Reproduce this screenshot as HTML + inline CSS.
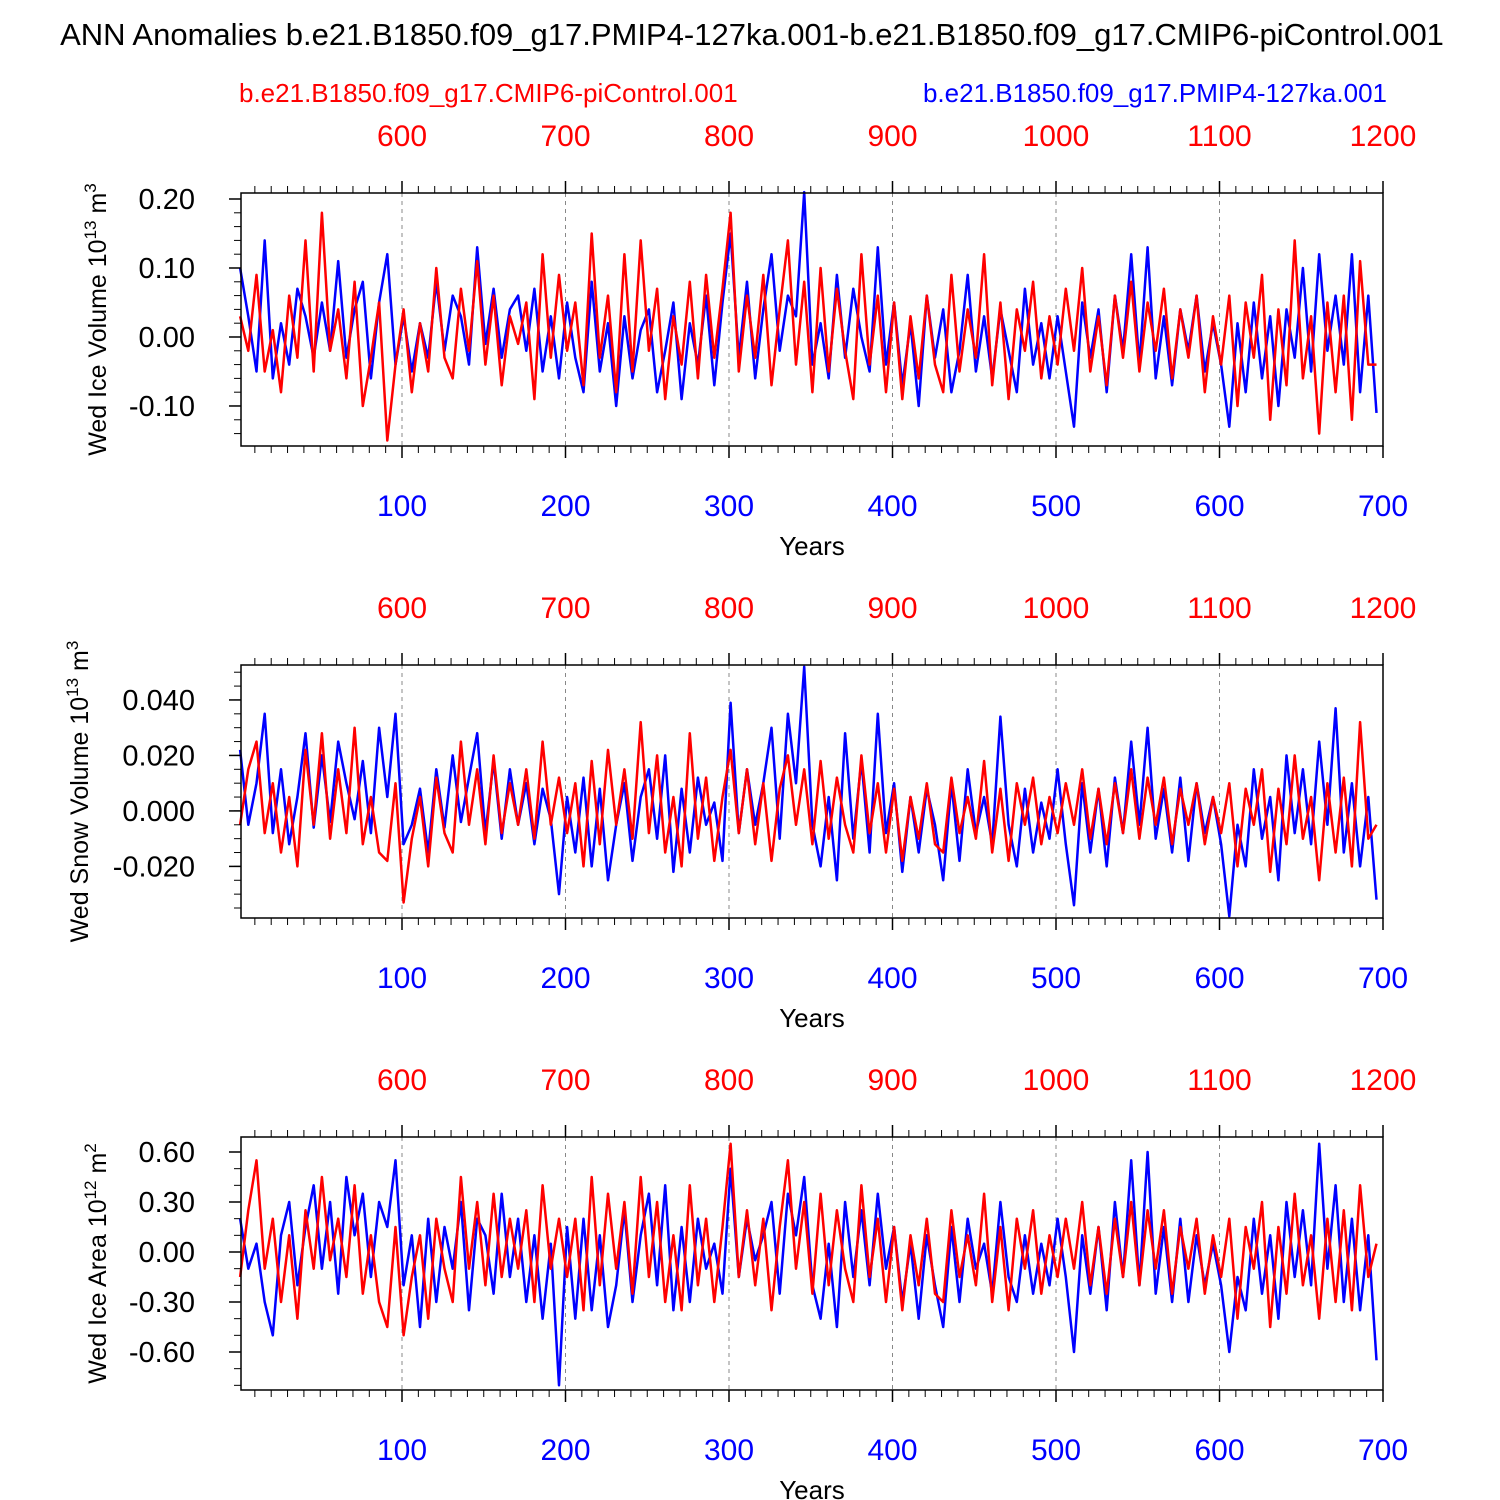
<!DOCTYPE html>
<html><head><meta charset="utf-8">
<style>
html,body{margin:0;padding:0;background:#fff;}
svg{display:block;font-family:"Liberation Sans",Arial,sans-serif;}
</style></head>
<body>
<svg id="chart" width="1500" height="1500" viewBox="0 0 1500 1500" xmlns="http://www.w3.org/2000/svg">
<text x="752" y="45" text-anchor="middle" font-size="31">ANN Anomalies b.e21.B1850.f09_g17.PMIP4-127ka.001-b.e21.B1850.f09_g17.CMIP6-piControl.001</text>
<text x="239" y="102" font-size="26" fill="#f00">b.e21.B1850.f09_g17.CMIP6-piControl.001</text>
<text x="1387" y="102" text-anchor="end" font-size="26" fill="#00f">b.e21.B1850.f09_g17.PMIP4-127ka.001</text>
</svg>
<script>
// sampling: one value every 5 years
const blueStart = 1, redStart = 501, step = 5;
const blueTicks = [100,200,300,400,500,600,700];
const redTicks = [600,700,800,900,1000,1100,1200];
// Panel 1: Wed Ice Volume (units of 0.01 x 10^13 m^3)
const iceVolBlue = [10,3,-5,14,-6,2,-4,7,3,-3,5,-2,11,-3,4,8,-6,5,12,-4,
3,-5,2,-3,8,-2,6,3,-4,13,-1,7,-3,4,6,-2,7,-5,3,-6,
5,-3,-8,8,-5,2,-10,3,-6,1,4,-8,-2,5,-9,2,-4,6,-7,5,
15,-3,8,-6,4,12,-2,6,3,21,-4,2,-6,9,-3,7,0,-5,13,-4,
5,-7,2,-10,6,-3,4,-8,-2,9,-5,3,-6,4,-2,-8,7,-4,2,-6,
3,-5,-13,5,-3,4,-8,6,-2,12,-4,13,-6,3,-7,4,-2,6,-5,2,
-4,-13,2,-8,5,-6,3,-10,4,-3,10,-5,12,-2,6,-4,12,-8,6,-11];
const iceVolRed = [3,-2,9,-5,1,-8,6,-3,14,-5,18,-2,4,-6,8,-10,-3,5,-15,-4,
4,-8,2,-5,10,-3,-6,7,-2,11,-4,6,-7,3,-1,5,-9,12,-3,9,
-2,5,-7,15,-3,6,-8,12,-5,14,-2,7,-9,3,-4,8,-6,9,-3,7,
18,-5,6,-3,9,-7,4,14,-4,8,-8,10,-5,7,-2,-9,12,-4,6,-8,
5,-9,3,-6,6,-4,-8,9,-5,4,-3,12,-7,5,-9,4,-2,8,-6,3,
-4,7,-2,10,-5,3,-7,6,-3,8,-5,5,-2,7,-6,4,-3,6,-8,3,
-4,6,-10,5,-3,9,-12,4,-7,14,-6,3,-14,5,-8,6,-12,11,-4,-4];
// Panel 2: Wed Snow Volume (units of 0.001 x 10^13 m^3)
const snowVolBlue = [22,-5,10,35,-8,15,-12,5,28,-6,20,-4,25,10,-3,18,-8,30,5,35,
-12,-5,8,-15,15,-6,20,-4,12,28,-8,18,-10,15,-5,10,-12,8,-3,-30,
5,-15,12,-20,8,-25,-5,10,-18,5,15,-10,20,-22,8,-15,12,-5,3,-18,
39,-8,15,-5,10,30,-10,35,10,52,-5,-20,5,-25,28,-10,18,-15,35,-8,
10,-22,5,-15,8,-5,-25,10,-18,15,-8,5,-12,34,-5,-20,8,-15,3,-10,
15,-12,-34,10,-15,8,-20,12,-8,25,-5,30,-10,8,-15,12,-18,10,-8,5,
-12,-38,-5,-20,15,-10,5,-25,20,-8,15,-12,25,-5,37,-15,10,-20,5,-32];
const snowVolRed = [-5,15,25,-8,10,-15,5,-20,22,-5,28,-10,15,-8,30,-12,5,-15,-18,10,
-33,-10,5,-20,12,-8,-15,25,-5,15,-12,20,-8,10,-5,15,-10,25,-5,12,
-8,10,-20,18,-12,22,-5,15,-10,32,-8,20,-15,5,-20,28,-10,12,-18,5,
22,-8,15,-12,10,-18,8,20,-5,15,-12,18,-10,12,-5,-15,20,-8,10,-15,
8,-18,5,-10,10,-12,-15,12,-8,5,-10,18,-15,8,-18,10,-5,12,-12,5,
-8,10,-5,15,-10,8,-12,10,-8,15,-10,12,-5,12,-12,8,-5,10,-12,5,
-8,10,-20,8,-5,15,-22,8,-12,20,-10,5,-25,10,-15,12,-20,32,-10,-5];
// Panel 3: Wed Ice Area (units of 0.01 x 10^12 m^2)
const iceAreaBlue = [20,-10,5,-30,-50,10,30,-20,15,40,-10,30,-25,45,10,35,-15,30,15,55,
-20,10,-45,20,-30,15,-10,30,-35,20,10,-25,35,-15,20,-30,10,-40,5,-80,
15,-40,20,-35,10,-45,-20,25,-30,10,35,-20,40,-35,15,-30,20,-10,5,-25,
50,-15,20,-5,10,30,-25,35,10,45,-20,-40,5,-45,30,-15,25,-20,35,-10,
15,-30,5,-40,10,-20,-45,15,-30,20,-10,5,-25,30,-15,-30,10,-25,5,-20,
20,-15,-60,10,-25,15,-35,30,-15,55,-20,60,-25,15,-30,20,-30,10,-20,5,
-20,-60,-15,-35,20,-25,10,-40,30,-15,25,-20,65,-10,40,-30,20,-35,10,-65];
const iceAreaRed = [-15,25,55,-10,20,-30,10,-40,25,-10,45,-5,20,-15,40,-25,10,-30,-45,15,
-50,-15,10,-40,20,-10,-30,45,-10,30,-20,35,-15,20,-10,25,-30,40,-10,20,
-15,20,-35,45,-20,35,-10,30,-25,45,-15,30,-30,10,-35,40,-20,20,-30,15,
65,-15,25,-20,20,-35,15,55,-10,30,-25,35,-20,25,-10,-30,40,-15,20,-30,
15,-35,10,-20,20,-25,-30,25,-15,10,-20,35,-30,15,-35,20,-10,25,-25,10,
-15,20,-10,30,-20,15,-25,20,-15,30,-20,25,-10,25,-25,15,-10,20,-25,10,
-15,20,-40,15,-10,30,-45,15,-25,35,-20,10,-40,20,-30,25,-35,40,-15,5];
const p1Ticks = ["0.20","0.10","0.00","-0.10"];
const p2Ticks = ["0.040","0.020","0.000","-0.020"];
const p3Ticks = ["0.60","0.30","0.00","-0.30","-0.60"];

const NS = "http://www.w3.org/2000/svg";
const svg = document.getElementById('chart');
function mk(tag, attrs, parent){const e=document.createElementNS(NS,tag);for(const k in attrs)e.setAttribute(k,attrs[k]);(parent||svg).appendChild(e);return e;}
const X0=241, X1=1383;
function xBlue(yr){return 402+(yr-100)*1.635;}
function xRed(yr){return 402+(yr-600)*1.635;}

const panels=[
 {off:0, ymax:0.2087, ymin:-0.158, scale:0.01, blue:iceVolBlue, red:iceVolRed, ticks:p1Ticks, minor:0.02, title:"Wed Ice Volume 10", sup:"13", unit:" m", usup:"3", tx:106},
 {off:472, ymax:0.0526, ymin:-0.0386, scale:0.001, blue:snowVolBlue, red:snowVolRed, ticks:p2Ticks, minor:0.005, title:"Wed Snow Volume 10", sup:"13", unit:" m", usup:"3", tx:88},
 {off:944, ymax:0.69, ymin:-0.828, scale:0.01, blue:iceAreaBlue, red:iceAreaRed, ticks:p3Ticks, minor:0.1, title:"Wed Ice Area 10", sup:"12", unit:" m", usup:"2", tx:106}
];
panels.forEach((p,i)=>{
 const T=193+p.off, B=446+p.off;
 const g=mk('g',{});
 
 
 const y=v=>T+(p.ymax-v)/(p.ymax-p.ymin)*(B-T);
 blueTicks.slice(0,6).forEach(t=>{const l=mk('line',{x1:xBlue(t),x2:xBlue(t),y1:T,y2:B,stroke:'#888','stroke-width':1,'stroke-dasharray':'4,4'},g);
  });
 [[p.blue,xBlue,blueStart,'#00f','blue-series'],[p.red,xRed,redStart,'#f00','red-series']].forEach(([arr,xf,st,c,n])=>{
  const pts=arr.map((v,k)=>xf(st+k*step).toFixed(1)+','+y(v*p.scale).toFixed(1)).join(' ');
  const pl=mk('polyline',{points:pts,fill:'none',stroke:c,'stroke-width':2.5,'stroke-linejoin':'round'},g);
  
 });
 const r=mk('rect',{x:X0,y:T,width:X1-X0,height:B-T,fill:'none',stroke:'#000','stroke-width':1.5},g);
 
 p.ticks.forEach(s=>{const v=parseFloat(s);const yy=y(v);
  mk('line',{x1:X0-12,x2:X0,y1:yy,y2:yy,stroke:'#000','stroke-width':1.5},g);
  const t=mk('text',{x:X0-46,y:yy+10,'text-anchor':'end','font-size':29},g);t.textContent=s;
  });
 const k0=Math.ceil(p.ymin/p.minor-1e-6), k1=Math.floor(p.ymax/p.minor+1e-6);
 for(let k=k0;k<=k1;k++){const yy=y(k*p.minor);mk('line',{x1:X0-7,x2:X0,y1:yy,y2:yy,stroke:'#000','stroke-width':1},g);}
 for(let yr=10;yr<=700;yr+=10){const xx=xBlue(yr);const maj=yr%100===0;
  mk('line',{x1:xx,x2:xx,y1:B,y2:B+(maj?12:7),stroke:'#000','stroke-width':maj?1.5:1},g);
  mk('line',{x1:xx,x2:xx,y1:T,y2:T-(maj?12:7),stroke:'#000','stroke-width':maj?1.5:1},g);}
 blueTicks.forEach(t=>{const e=mk('text',{x:xBlue(t),y:B+70,'text-anchor':'middle','font-size':30,fill:'#00f'},g);e.textContent=t;
  });
 redTicks.forEach(t=>{const e=mk('text',{x:xRed(t),y:T-47,'text-anchor':'middle','font-size':30,fill:'#f00'},g);e.textContent=t;
  });
 const xt=mk('text',{x:812,y:B+109,'text-anchor':'middle','font-size':26},g);xt.textContent='Years';
 
 const yt=mk('text',{x:0,y:0,'text-anchor':'middle','font-size':25,transform:`translate(${p.tx},${(T+B)/2}) rotate(-90)`},g);
 
 const a=mk('tspan',{},yt);a.textContent=p.title;
 const b=mk('tspan',{dy:-10,'font-size':17},yt);b.textContent=p.sup;
 const c=mk('tspan',{dy:10},yt);c.textContent=p.unit;
 const d=mk('tspan',{dy:-10,'font-size':17},yt);d.textContent=p.usup;
});
</script>
</body></html>
